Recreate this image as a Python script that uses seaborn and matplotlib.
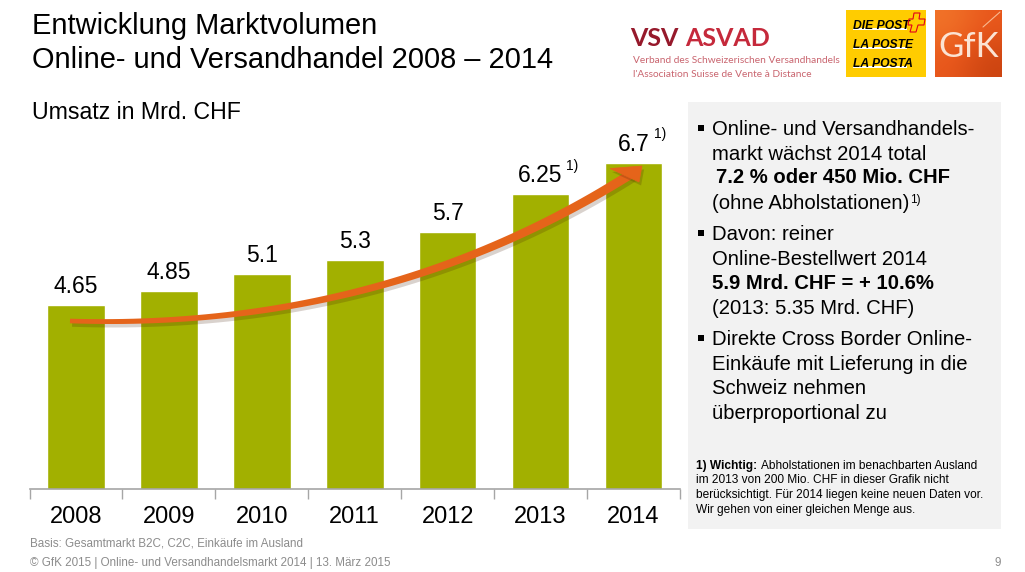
import numpy as np
import pandas as pd
import matplotlib
matplotlib.use('Agg')
import matplotlib.pyplot as plt
import matplotlib.patheffects as pe
from matplotlib.patches import Rectangle, Polygon
import seaborn as sns

years = ['2008', '2009', '2010', '2011', '2012', '2013', '2014']
umsatz = [4.65, 4.85, 5.1, 5.3, 5.7, 6.25, 6.7]
umsatz_labels = ['4.65', '4.85', '5.1', '5.3', '5.7', '6.25', '6.7']

W, H = 1025, 572
GREEN = '#a2b000'
ORANGE = '#e5641a'
GREY = '#8c8c8c'

sns.set_theme(style='white')
plt.rcParams['font.family'] = ['Liberation Sans', 'DejaVu Sans']

fig = plt.figure(figsize=(W / 100, H / 100), dpi=100)


def px_text(x, y, s, **kw):
    # x, y in reference pixels, y = baseline from the top
    kw.setdefault('va', 'baseline')
    kw.setdefault('color', 'black')
    return fig.text(x / W, 1 - y / H, s, **kw)


def px_rect(x0, y0, x1, y1, **kw):
    r = Rectangle((x0 / W, 1 - y1 / H), (x1 - x0) / W, (y1 - y0) / H,
                  transform=fig.transFigure, linewidth=0, **kw)
    fig.add_artist(r)
    return r


def px_poly(points, **kw):
    p = Polygon([(x / W, 1 - y / H) for x, y in points], closed=True,
                transform=fig.transFigure, **kw)
    fig.add_artist(p)
    return p


# grey box on the right
px_rect(688, 102, 1001, 529, facecolor='#f2f2f2', zorder=0)

# bar chart, axis is cut at 2 like in the original
ax = fig.add_axes([29.5 / W, 1 - 489 / H, 650.5 / W, 389 / H])
ax.patch.set_alpha(0)
df = pd.DataFrame({'year': years, 'umsatz': umsatz})
sns.barplot(data=df, x='year', y='umsatz', color=GREEN, saturation=1, width=0.62, ax=ax)
ax.set_xlim(-0.5, 6.5)
ax.set_ylim(2, 2 + 389 / 69.4)
ax.set_xlabel('')
ax.set_ylabel('')
ax.set_yticks([])
sns.despine(ax=ax, left=True, top=True, right=True)
ax.spines['bottom'].set_color('#a6a6a6')
ax.spines['bottom'].set_linewidth(1.2)
ax.set_xticks(np.arange(-0.5, 7, 1), minor=True)
ax.tick_params(axis='x', which='minor', length=7, width=1, color='#a6a6a6', bottom=True)
ax.tick_params(axis='x', which='major', length=0, labelsize=17, pad=12, labelcolor='black')
ax.bar_label(ax.containers[0], labels=umsatz_labels, fontsize=16.5, padding=5, color='black')

# trend arrow: quadratic curve getting thicker towards the head
p0, c, p2 = np.array([70, 321.]), np.array([390, 331.]), np.array([642, 167.])
t = np.linspace(0, 0.985, 60)[:, None]
curve = (1 - t) ** 2 * p0 + 2 * t * (1 - t) * c + t ** 2 * p2
tang = 2 * (1 - t) * (c - p0) + 2 * t * (p2 - c)
norm = np.hstack([-tang[:, 1:], tang[:, :1]]) / np.linalg.norm(tang, axis=1, keepdims=True)
half = 2.3 + 2.4 * t
shaft = np.vstack([curve + norm * half, (curve - norm * half)[::-1]])
shadow = [pe.SimplePatchShadow(offset=(1.5, -2.5), alpha=0.2), pe.Normal()]
px_poly(shaft, facecolor=ORANGE, edgecolor='none', zorder=5, path_effects=shadow)
px_poly([(610, 168.5), (642, 166), (639, 182)], facecolor=ORANGE, edgecolor=ORANGE, linewidth=0.5,
        zorder=5, path_effects=shadow)

# superscripts next to the value labels
px_text(566, 170, '1)', fontsize=10)
px_text(654, 138, '1)', fontsize=10)

# titles
px_text(32, 34, 'Entwicklung Marktvolumen', fontsize=20.85)
px_text(32, 68, 'Online- und Versandhandel 2008 – 2014', fontsize=20.85)
px_text(32, 119, 'Umsatz in Mrd. CHF', fontsize=16.7)

# right panel text
panel_lines = [
    (712, 135, 'Online- und Versandhandels-', 'normal'),
    (712, 160, 'markt wächst 2014 total', 'normal'),
    (716, 183, '7.2 % oder 450 Mio. CHF', 'bold'),
    (712, 209, '(ohne Abholstationen)', 'normal'),
    (712, 240, 'Davon: reiner', 'normal'),
    (712, 265, 'Online-Bestellwert 2014', 'normal'),
    (712, 289, '5.9 Mrd. CHF = + 10.6%', 'bold'),
    (712, 314, '(2013: 5.35 Mrd. CHF)', 'normal'),
    (712, 345, 'Direkte Cross Border Online-', 'normal'),
    (712, 370, 'Einkäufe mit Lieferung in die', 'normal'),
    (712, 394, 'Schweiz nehmen', 'normal'),
    (712, 419, 'überproportional zu', 'normal'),
]
for x, y, s, weight in panel_lines:
    px_text(x, y, s, fontsize=14.6, fontweight=weight)
for y in [135, 240, 345]:
    px_rect(698, y - 10, 704, y - 4, facecolor='black', zorder=1)
px_text(910, 203, '1)', fontsize=8.5)

# footnote in the panel
px_text(696, 469, '1) Wichtig:', fontsize=8.6, fontweight='bold')
px_text(761, 469, 'Abholstationen im benachbarten Ausland', fontsize=8.6)
px_text(696, 483, 'im 2013 von 200 Mio. CHF in dieser Grafik nicht', fontsize=8.6)
px_text(696, 498, 'berücksichtigt. Für 2014 liegen keine neuen Daten vor.', fontsize=8.6)
px_text(696, 513, 'Wir gehen von einer gleichen Menge aus.', fontsize=8.6)

# footer
px_text(30, 547, 'Basis: Gesamtmarkt B2C, C2C, Einkäufe im Ausland', fontsize=8.4, color=GREY)
px_text(30, 566, '© GfK 2015 | Online- und Versandhandelsmarkt 2014 | 13. März 2015', fontsize=8.4, color=GREY)
px_text(1001, 566, '9', fontsize=8.4, color=GREY, ha='right')

# logos
px_text(630, 46, 'VSV', fontsize=18, color='#96192b', family='Lato', fontweight='bold')
px_text(685, 46, 'ASVAD', fontsize=18, color='#c5293b', family='Lato', fontweight='bold')
px_text(633, 63, 'Verband des Schweizerischen Versandhandels', fontsize=7.3, color='#c9656f', family='Lato')
px_text(633, 77, "l'Association Suisse de Vente à Distance", fontsize=7.3, color='#c9656f', family='Lato')

px_rect(846, 10, 926, 77, facecolor='#ffcc00')
for y, s in [(29, 'DIE POST'), (48, 'LA POSTE'), (67, 'LA POSTA')]:
    px_rect(853, y - 1, 907, y + 1, facecolor='white')
    px_text(853, y, s, fontsize=8.7, fontweight='bold', style='italic', zorder=3)
px_poly([(914, 13), (920, 13), (919, 19), (925, 19), (924, 25), (918, 25), (916, 32), (910, 32),
         (912, 25), (908, 25), (909, 19), (913, 19)],
        fill=False, edgecolor='#e2001a', linewidth=0.8, zorder=4)

logo_ax = fig.add_axes([935 / W, 1 - 77 / H, 67 / W, 67 / H])
logo_ax.imshow([[0.1, 0.5], [0.5, 0.95]], cmap=sns.blend_palette(['#f47a2c', '#e8581c', '#c8410f'], as_cmap=True),
               interpolation='bicubic', aspect='auto', vmin=0, vmax=1)
logo_ax.axis('off')
px_text(968.5, 57, 'GfK', fontsize=25, color='#fbe3d3', ha='center', family='Lato', zorder=3)
fig.add_artist(plt.Line2D([983 / W, 1000 / W], [1 - 27 / H, 1 - 12 / H], color='#f9b98f', linewidth=0.8,
                          transform=fig.transFigure, zorder=3))

fig.savefig('out.png', dpi=100)
